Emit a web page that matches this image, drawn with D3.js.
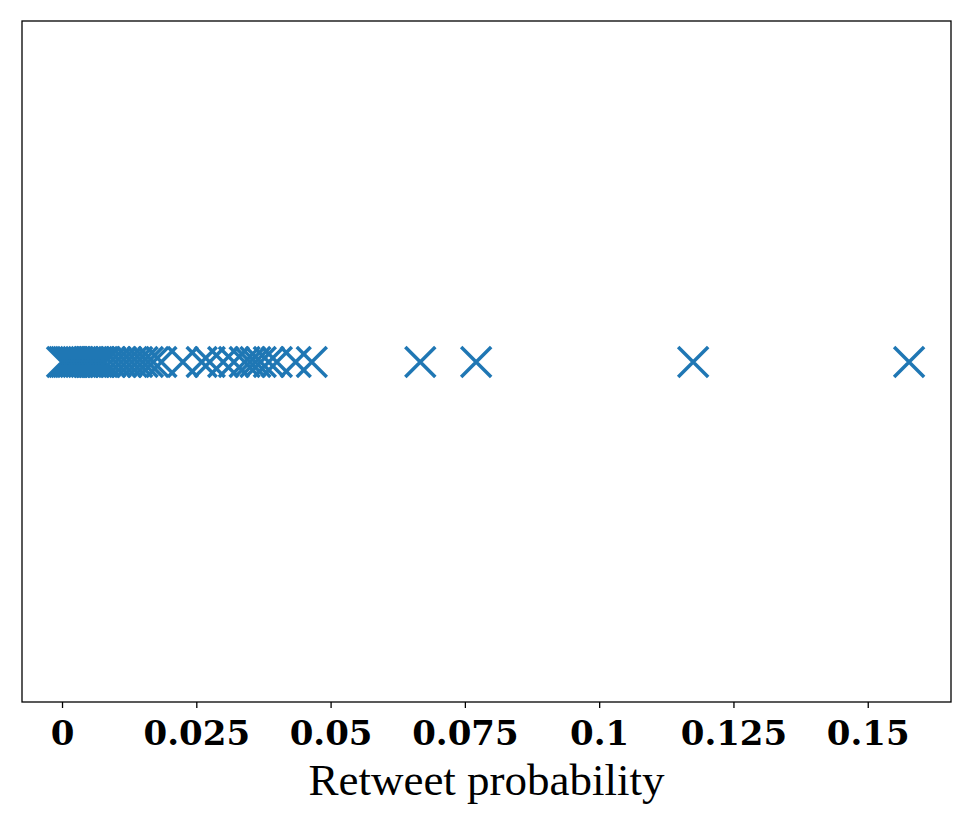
<!DOCTYPE html>
<html><head><meta charset="utf-8">
<script src="https://cdn.jsdelivr.net/npm/d3@7"></script>
<style>body{margin:0;background:#fff}</style>
</head><body>
<svg id="c" width="975" height="822"></svg>
<script>
const probabilities = [0, 0.0004, 0.0008, 0.0012, 0.0016, 0.002, 0.0025, 0.003, 0.0035, 0.004, 0.0045, 0.005, 0.0055, 0.006, 0.0065, 0.007, 0.0075, 0.008, 0.009, 0.01, 0.011, 0.012, 0.013, 0.014, 0.015, 0.016, 0.017,
  0.0185, 0.0225, 0.026, 0.0275, 0.030, 0.032, 0.034, 0.035, 0.036, 0.037, 0.0385, 0.040, 0.0435, 0.0465,
  0.0667, 0.0771, 0.1175, 0.1577];
const tickValues = [0, 0.025, 0.05, 0.075, 0.1, 0.125, 0.15];
const tickLabels = ["0", "0.025", "0.05", "0.075", "0.1", "0.125", "0.15"];
const xLabel = "Retweet probability";

const svg = d3.select("#c");
const L = 22, R = 951, T = 21, B = 702;
const x = d3.scaleLinear().domain([-0.00745, 0.1655]).range([L, R]);
const yMid = 362;

svg.append("rect").attr("x", L).attr("y", T).attr("width", R - L).attr("height", B - T)
  .attr("fill", "none").attr("stroke", "#000").attr("stroke-width", 1.3);

const ax = svg.append("g").attr("transform", `translate(0,${B})`)
  .call(d3.axisBottom(x).tickValues(tickValues).tickFormat((d, i) => tickLabels[i]).tickSize(6));
ax.select(".domain").remove();
ax.selectAll("line").attr("stroke", "#000").attr("stroke-width", 1.3);
ax.selectAll("text").attr("font-family", "DejaVu Serif").attr("font-weight", "bold")
  .attr("font-size", 34).attr("fill", "#000").attr("y", 43).attr("dy", 0);

svg.append("text").attr("x", (L + R) / 2).attr("y", 795).attr("text-anchor", "middle")
  .attr("font-family", "Liberation Serif").attr("font-size", 45).attr("fill", "#000").text(xLabel);

const s = 15;
const g = svg.append("g").attr("stroke", "#1f77b4").attr("stroke-width", 3.5).attr("fill", "none");
g.selectAll("path").data(probabilities).join("path")
  .attr("d", d => {
    const cx = x(d);
    return `M${cx - s},${yMid - s}L${cx + s},${yMid + s}M${cx - s},${yMid + s}L${cx + s},${yMid - s}`;
  });
</script>
</body></html>
